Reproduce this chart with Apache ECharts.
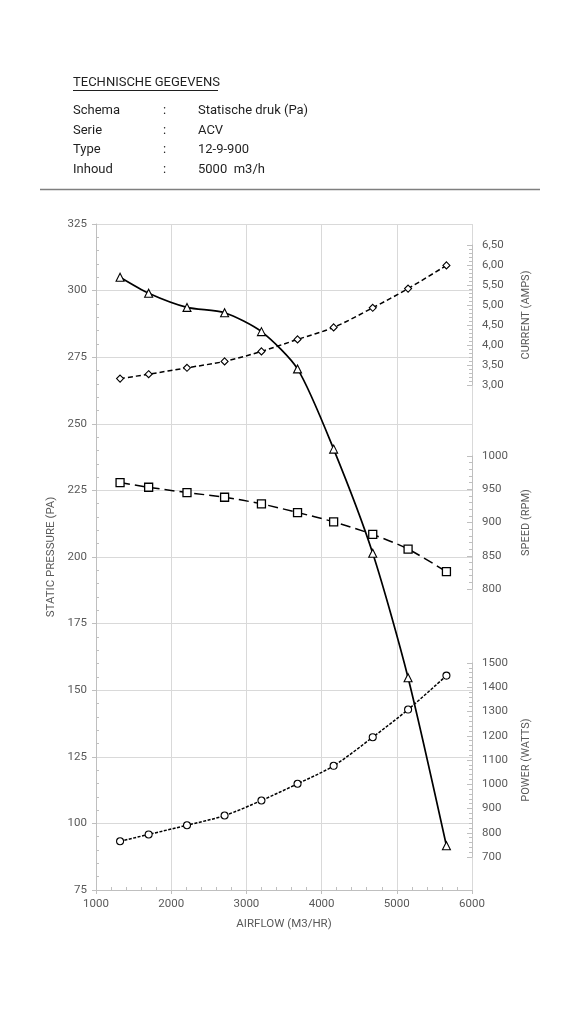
<!DOCTYPE html>
<html>
<head>
<meta charset="utf-8">
<script src="https://cdn.jsdelivr.net/npm/echarts@6/dist/echarts.min.js"></script>
<style>
html,body{margin:0;padding:0;background:#fff;}
#chart{width:579px;height:1024px;}
</style>
</head>
<body>
<div id="chart"></div>
<script>
// ---- data ----
const airflow  = [1320, 1700, 2210, 2710, 3200, 3680, 4160, 4680, 5150, 5660];
const pressure = [305, 299, 293.7, 291.7, 284.6, 270.6, 240.5, 201.4, 154.7, 91.6];
const current  = [3.16, 3.27, 3.43, 3.59, 3.84, 4.14, 4.44, 4.93, 5.41, 5.99];
const speed    = [960, 953, 945, 938, 928, 915, 901, 882, 860, 826];
const power    = [765, 793, 831, 871, 933, 1002, 1076, 1194, 1308, 1448];

const headerTitle = 'TECHNISCHE GEGEVENS';
const headerKeys = ['Schema', 'Serie', 'Type', 'Inhoud'];
const headerVals = ['Statische druk (Pa)', 'ACV', '12-9-900', '5000  m3/h'];

function pairs(ys){ return airflow.map((x,i)=>[x, ys[i]]); }

const FONT = 'Roboto, "Liberation Sans", Arial, sans-serif';
const LBL = '#595959';
const AXL = '#bfbfbf';
const GRID = '#d9d9d9';

const G = {left:96, right:107};
const chart = echarts.init(document.getElementById('chart'));

const graphic = [];
graphic.push({type:'text', left:73, top:76, style:{text:headerTitle, font:'13px '+FONT, fill:'#1f1f1f'}});
graphic.push({type:'line', shape:{x1:73, y1:90.5, x2:218, y2:90.5}, style:{stroke:'#1f1f1f', lineWidth:1}});
headerKeys.forEach((k,i)=>{
  const y = 104.5 + i*19.5;
  graphic.push({type:'text', left:73, top:y, style:{text:k, font:'13px '+FONT, fill:'#1f1f1f'}});
  graphic.push({type:'text', left:163, top:y, style:{text:':', font:'13px '+FONT, fill:'#1f1f1f'}});
  graphic.push({type:'text', left:198, top:y, style:{text:headerVals[i], font:'13px '+FONT, fill:'#1f1f1f'}});
});
graphic.push({type:'line', shape:{x1:40, y1:189.5, x2:540, y2:189.5}, style:{stroke:'#7f7f7f', lineWidth:1.5}});

function hiddenX(gi){ return {type:'value', gridIndex:gi, min:1000, max:6000, show:false}; }
function rightY(gi, min, max, interval, name, fmt){
  return {
    type:'value', gridIndex:gi, position:'right', min:min, max:max, interval:interval,
    name:name, nameLocation:'middle', nameGap:49, nameRotate:90,
    nameTextStyle:{color:LBL, fontSize:11, fontFamily:FONT},
    axisLine:{show:true, lineStyle:{color:AXL}},
    axisTick:{show:true, inside:true, length:5, lineStyle:{color:AXL}},
    minorTick:{show:true, splitNumber:5, length:3, lineStyle:{color:AXL}},
    splitLine:{show:false},
    axisLabel:{color:LBL, fontSize:11.5, fontFamily:FONT, margin:10, formatter:fmt}
  };
}

const option = {
  animation:false,
  backgroundColor:'#fff',
  graphic: graphic,
  grid:[
    {left:G.left, right:G.right, top:224, height:666},
    {left:G.left, right:G.right, top:245, height:140},
    {left:G.left, right:G.right, top:456, height:133},
    {left:G.left, right:G.right, top:663, height:194},
    {left:G.left, right:G.right, top:224, height:666}
  ],
  xAxis:[
    {type:'value', gridIndex:0, min:1000, max:6000, interval:1000,
     name:'AIRFLOW (M3/HR)', nameLocation:'middle', nameGap:28,
     nameTextStyle:{color:LBL, fontSize:11.5, fontFamily:FONT},
     axisLine:{show:true, lineStyle:{color:AXL}},
     axisTick:{show:true, length:4, lineStyle:{color:AXL}},
     splitLine:{show:true, lineStyle:{color:GRID}},
     axisLabel:{color:LBL, fontSize:11.5, fontFamily:FONT, margin:8, formatter:v=>String(v)}},
    hiddenX(1), hiddenX(2), hiddenX(3),
    {type:'value', gridIndex:4, min:1000, max:6000, interval:1000,
     axisLine:{show:false}, axisLabel:{show:false}, splitLine:{show:false},
     axisTick:{show:false, inside:true},
     minorTick:{show:true, splitNumber:5, length:3, lineStyle:{color:AXL}}}
  ],
  yAxis:[
    {type:'value', gridIndex:0, min:75, max:325, interval:25,
     name:'STATIC PRESSURE (PA)', nameLocation:'middle', nameGap:33, nameRotate:90,
     nameTextStyle:{color:LBL, fontSize:11.5, fontFamily:FONT},
     axisLine:{show:true, lineStyle:{color:AXL}},
     axisTick:{show:true, length:4, lineStyle:{color:AXL}},
     splitLine:{show:true, lineStyle:{color:GRID}},
     axisLabel:{color:LBL, fontSize:11.5, fontFamily:FONT, margin:9}},
    rightY(1, 3, 6.5, 0.5, 'CURRENT (AMPS)', v=>v.toFixed(2).replace('.',',')),
    rightY(2, 800, 1000, 50, 'SPEED (RPM)', v=>String(v)),
    rightY(3, 700, 1500, 100, 'POWER (WATTS)', v=>String(v)),
    {type:'value', gridIndex:4, min:75, max:325, interval:25,
     axisLine:{show:false}, axisLabel:{show:false}, splitLine:{show:false},
     axisTick:{show:false, inside:true},
     minorTick:{show:true, splitNumber:5, length:3, lineStyle:{color:AXL}}}
  ],
  series:[
    {type:'line', name:'Pressure', xAxisIndex:0, yAxisIndex:0, data:pairs(pressure),
     smooth:0.25, symbol:'triangle', symbolSize:8,
     lineStyle:{color:'#000', width:1.7},
     itemStyle:{color:'#fff', borderColor:'#000', borderWidth:1.1}},
    {type:'line', name:'Current', xAxisIndex:1, yAxisIndex:1, data:pairs(current),
     smooth:0.3, symbol:'diamond', symbolSize:7,
     lineStyle:{color:'#000', width:1.5, type:[5,3]},
     itemStyle:{color:'#fff', borderColor:'#000', borderWidth:1.1}},
    {type:'line', name:'Speed', xAxisIndex:2, yAxisIndex:2, data:pairs(speed),
     smooth:0.3, symbol:'rect', symbolSize:8,
     lineStyle:{color:'#000', width:1.5, type:[10,5]},
     itemStyle:{color:'#fff', borderColor:'#000', borderWidth:1.3}},
    {type:'line', name:'Power', xAxisIndex:3, yAxisIndex:3, data:pairs(power),
     smooth:0.3, symbol:'circle', symbolSize:7,
     lineStyle:{color:'#000', width:1.5, type:[3,1.5]},
     itemStyle:{color:'#fff', borderColor:'#000', borderWidth:1.1}}
  ]
};
chart.setOption(option);
</script>
</body>
</html>
